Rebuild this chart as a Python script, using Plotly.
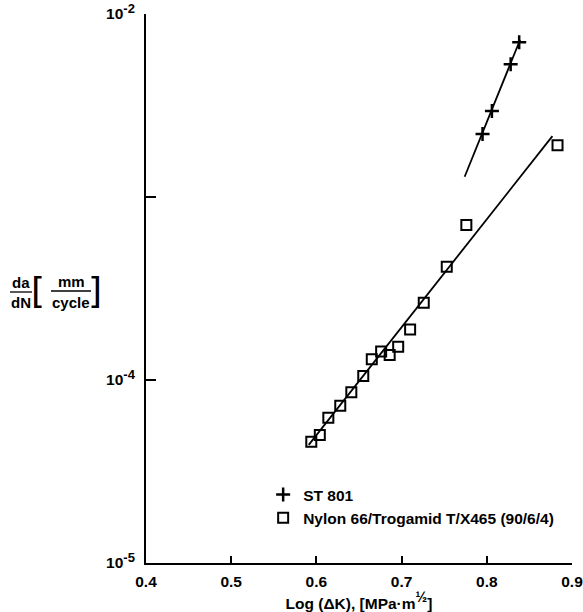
import plotly.graph_objects as go

# Data
nylon_x = [0.594, 0.604, 0.614, 0.628, 0.641, 0.655, 0.665, 0.676, 0.686, 0.696, 0.710, 0.726, 0.753, 0.776, 0.883]
nylon_y = [4.60e-5, 5.00e-5, 6.22e-5, 7.24e-5, 8.57e-5, 1.05e-4, 1.30e-4, 1.43e-4, 1.37e-4, 1.52e-4, 1.89e-4, 2.64e-4, 4.16e-4, 7.03e-4, 1.92e-3]
st_x = [0.795, 0.806, 0.828, 0.838]
st_y = [2.21e-3, 2.95e-3, 5.31e-3, 7.00e-3]

nylon_fit_x = [0.591, 0.877]
nylon_fit_y = [4.42e-5, 2.15e-3]
st_fit_x = [0.774, 0.839]
st_fit_y = [1.29e-3, 7.21e-3]

SUP = "<sup><span style='font-size:13px'>{}</span></sup>"
y_tickvals = [1e-5, 1e-4, 1e-3, 1e-2]
y_ticktext = ["10" + SUP.format("-5"), "10" + SUP.format("-4"), "", "10" + SUP.format("-2")]
x_tickvals = [0.4, 0.5, 0.6, 0.7, 0.8, 0.9]
x_ticktext = ["0.4", "0.5", "0.6", "0.7", "0.8", "0.9"]

FONT = "Liberation Sans, Arial, sans-serif"

fig = go.Figure()
fig.add_trace(go.Scatter(x=st_fit_x, y=st_fit_y, mode="lines",
                         line=dict(color="black", width=1.8), showlegend=False, hoverinfo="skip"))
fig.add_trace(go.Scatter(x=nylon_fit_x, y=nylon_fit_y, mode="lines",
                         line=dict(color="black", width=1.8), showlegend=False, hoverinfo="skip"))
fig.add_trace(go.Scatter(x=st_x, y=st_y, mode="markers", name="ST 801", legendgroup="a",
                         marker=dict(symbol="cross-thin", size=10, color="black",
                                     line=dict(color="black", width=2.5))))
fig.add_trace(go.Scatter(x=nylon_x, y=nylon_y, mode="markers",
                         name="Nylon 66/Trogamid T/X465 (90/6/4)", legendgroup="b",
                         marker=dict(symbol="square-open", size=10, color="black",
                                     line=dict(color="black", width=2))))

fig.update_layout(
    width=583, height=612,
    margin=dict(l=146, r=11, t=14, b=49, autoexpand=False),
    paper_bgcolor="white", plot_bgcolor="white",
    font=dict(family=FONT, color="black", size=15, weight="bold"),
    legend=dict(x=0.275, y=0.155, xanchor="left", yanchor="top",
                bgcolor="rgba(0,0,0,0)", traceorder="grouped", tracegroupgap=0,
                font=dict(size=15.5, family=FONT, weight="bold")),
    xaxis=dict(range=[0.4, 0.9], tickmode="array", tickvals=x_tickvals, ticktext=x_ticktext,
               ticks="inside", ticklen=7, tickwidth=1.5, tickcolor="black",
               showline=True, linewidth=2, linecolor="black", showgrid=False, zeroline=False,
               tickfont=dict(size=15.5, weight="bold"), ticklabelstandoff=3,
               ticklabeloverflow="allow", automargin=False,
               title=dict(text="Log (ΔK), [MPa·m<sup><span style='font-size:14px'>½</span></sup>]",
                          font=dict(size=15.5, weight="bold"), standoff=4)),
    yaxis=dict(type="log", range=[-5, -2], tickmode="array", tickvals=y_tickvals, ticktext=y_ticktext,
               ticks="inside", ticklen=10, tickwidth=1.5, tickcolor="black",
               showline=True, linewidth=2, linecolor="black", showgrid=False, zeroline=False,
               tickfont=dict(size=15.5, weight="bold"), ticklabelstandoff=6,
               ticklabeloverflow="allow", automargin=False),
)

# y-axis label built as stacked fractions: da/dN [mm/cycle]
def px_x(p):
    return (p - 146) / 426.0

def px_y(p):
    return 1 - (p - 14) / 549.0

ann = [
    ("da", 21, 282),
    ("dN", 21, 302),
    ("mm", 71, 281),
    ("cycle", 71, 302),
]
for t, xx, yy in ann:
    fig.add_annotation(text=t, x=px_x(xx), y=px_y(yy), xref="paper", yref="paper",
                       showarrow=False, xanchor="center", yanchor="middle",
                       font=dict(size=15, family=FONT, color="black", weight="bold"))
# brackets
fig.add_annotation(text="[", x=px_x(38), y=px_y(290), xref="paper", yref="paper",
                   showarrow=False, xanchor="center", yanchor="middle",
                   font=dict(size=36, family="DejaVu Sans", color="black", weight="normal"))
fig.add_annotation(text="]", x=px_x(95), y=px_y(290), xref="paper", yref="paper",
                   showarrow=False, xanchor="center", yanchor="middle",
                   font=dict(size=36, family="DejaVu Sans", color="black", weight="normal"))
# fraction bars
fig.add_shape(type="line", xref="paper", yref="paper", x0=px_x(10), x1=px_x(32),
              y0=px_y(292), y1=px_y(292), line=dict(color="black", width=1.3))
fig.add_shape(type="line", xref="paper", yref="paper", x0=px_x(51), x1=px_x(91),
              y0=px_y(291), y1=px_y(291), line=dict(color="black", width=1.3))

fig.write_html("out.html")
